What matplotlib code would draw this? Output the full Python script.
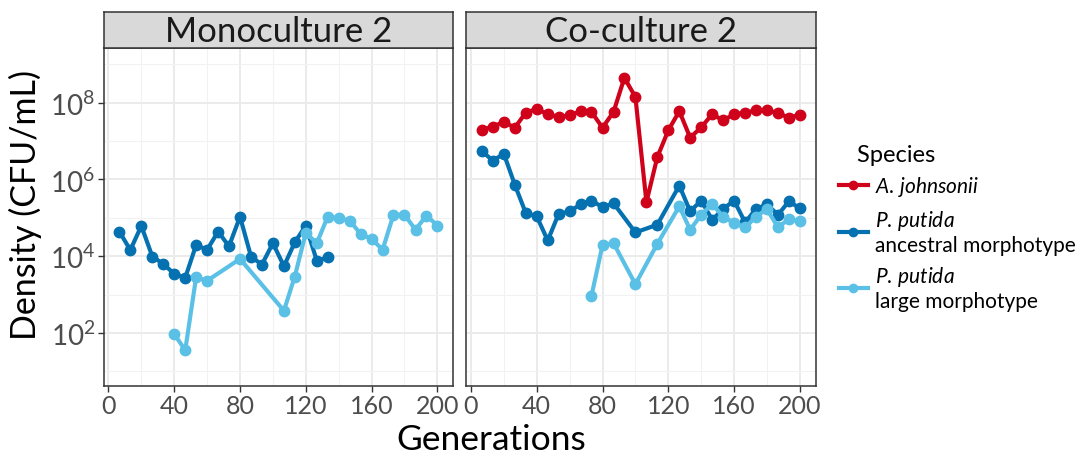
import matplotlib
matplotlib.use('Agg')
import matplotlib.pyplot as plt
from matplotlib.ticker import FixedLocator, FuncFormatter, NullFormatter
from matplotlib.lines import Line2D
import math

plt.rcParams['font.family'] = ['Lato', 'DejaVu Sans']
plt.rcParams['mathtext.fontset'] = 'custom'
plt.rcParams['mathtext.rm'] = 'Lato'
plt.rcParams['mathtext.it'] = 'Lato:italic'

# values: generations and log10(CFU/mL)
mono_anc_gen = [6.7, 13.3, 20, 26.7, 33.3, 40, 46.7, 53.3, 60, 66.7,
                73.3, 80, 86.7, 93.3, 100, 106.7, 113.3, 120, 126.7, 133.3]
mono_anc_log = [4.64, 4.16, 4.79, 3.99, 3.80, 3.54, 3.44, 4.29, 4.17, 4.64,
                4.26, 5.03, 3.99, 3.78, 4.34, 3.74, 4.36, 4.80, 3.88, 3.97]

mono_large_gen = [40, 46.7, 53.3, 60, 80, 106.7, 113.3, 120, 126.7, 133.3,
                  140, 146.7, 153.3, 160, 166.7, 173.3, 180, 186.7, 193.3, 200]
mono_large_log = [1.97, 1.55, 3.45, 3.36, 3.93, 2.58, 3.47, 4.61, 4.34, 5.03,
                  4.99, 4.93, 4.58, 4.45, 4.17, 5.08, 5.08, 4.69, 5.06, 4.80]

co_aj_gen = [6.7, 13.3, 20, 26.7, 33.3, 40, 46.7, 53.3, 60, 66.7,
             73.3, 80, 86.7, 93.3, 100, 106.7, 113.3, 120, 126.7, 133.3,
             140, 146.7, 153.3, 160, 166.7, 173.3, 180, 186.7, 193.3, 200]
co_aj_log = [7.30, 7.38, 7.50, 7.35, 7.74, 7.84, 7.70, 7.63, 7.67, 7.78,
             7.76, 7.35, 7.76, 8.65, 8.15, 5.41, 6.58, 7.28, 7.78, 7.09,
             7.36, 7.70, 7.54, 7.70, 7.74, 7.80, 7.80, 7.73, 7.61, 7.69]

co_anc_gen = [6.7, 13.3, 20, 26.7, 33.3, 40, 46.7, 53.3, 60, 66.7,
              73.3, 80, 86.7, 100, 113.3, 126.7, 133.3, 140, 146.7, 153.3,
              160, 166.7, 173.3, 180, 186.7, 193.3, 200]
co_anc_log = [6.74, 6.49, 6.67, 5.86, 5.13, 5.04, 4.41, 5.10, 5.17, 5.35,
              5.45, 5.28, 5.38, 4.62, 4.82, 5.84, 5.17, 5.45, 4.95, 5.23,
              5.45, 4.88, 5.23, 5.35, 5.08, 5.43, 5.25]

co_large_gen = [73.3, 80, 86.7, 100, 113.3, 126.7, 133.3, 140, 146.7, 153.3,
                160, 166.7, 173.3, 180, 186.7, 193.3, 200]
co_large_log = [2.97, 4.29, 4.34, 3.27, 4.32, 5.30, 4.69, 5.08, 5.36, 5.03,
                4.87, 4.75, 5.03, 5.23, 4.75, 4.97, 4.91]

panels = ['Monoculture 2', 'Co-culture 2']
species = [r'$\mathit{A.\,johnsonii}$',
           r'$\mathit{P.\,putida}$' + '\nancestral morphotype',
           r'$\mathit{P.\,putida}$' + '\nlarge morphotype']
colors = ['#D0021B', '#0571B0', '#5BC0E6']

x_major = [0, 40, 80, 120, 160, 200]
x_minor = [20, 60, 100, 140, 180]
y_major = [1e2, 1e4, 1e6, 1e8]
y_minor = [1e1, 1e3, 1e5, 1e7, 1e9]

data = {
    'Monoculture 2': [None, (mono_anc_gen, mono_anc_log), (mono_large_gen, mono_large_log)],
    'Co-culture 2': [(co_aj_gen, co_aj_log), (co_anc_gen, co_anc_log), (co_large_gen, co_large_log)],
}

fig = plt.figure(figsize=(10.86, 4.6), dpi=100)
W, H = 1086, 460
ax_left = [103.5, 466]
ax_w = 349.5
top, bottom = 48.5, 386.5
strip_top = 12.5

def sup(v, pos):
    return r'$10^{%d}$' % round(math.log10(v))

for i, name in enumerate(panels):
    ax = fig.add_axes([ax_left[i] / W, 1 - bottom / H, ax_w / W, (bottom - top) / H])
    ax.set_yscale('log')
    ax.set_xlim(-3, 209.5)
    ax.set_ylim(10 ** 0.63, 10 ** 9.44)
    for k, d in enumerate(data[name]):
        if d is None:
            continue
        g, lv = d
        ax.plot(g, [10 ** v for v in lv], '-o', color=colors[k], lw=3.0,
                ms=7.5, solid_capstyle='round', zorder=3 + k)
    ax.xaxis.set_major_locator(FixedLocator(x_major))
    ax.xaxis.set_minor_locator(FixedLocator(x_minor))
    ax.yaxis.set_major_locator(FixedLocator(y_major))
    ax.yaxis.set_minor_locator(FixedLocator(y_minor))
    ax.yaxis.set_minor_formatter(NullFormatter())
    ax.grid(which='major', color='#EBEBEB', lw=1.4)
    ax.grid(which='minor', color='#F2F2F2', lw=0.8)
    ax.set_axisbelow(True)
    ax.tick_params(which='minor', length=0)
    ax.tick_params(which='major', length=4, width=1, color='#333333',
                   labelsize=18, labelcolor='#4D4D4D', pad=2)
    for s in ax.spines.values():
        s.set_color('#333333')
        s.set_linewidth(1.1)
    if i == 0:
        ax.yaxis.set_major_formatter(FuncFormatter(sup))
        ax.tick_params(axis='y', labelsize=20)
    else:
        ax.tick_params(axis='y', labelleft=False, length=0)
    # strip
    st = fig.add_axes([ax_left[i] / W, 1 - top / H, ax_w / W, (top - strip_top) / H])
    st.set_facecolor('#D9D9D9')
    st.set_xticks([]); st.set_yticks([])
    for s in st.spines.values():
        s.set_color('#333333')
        s.set_linewidth(1.1)
    st.text(0.5, 0.47, name, ha='center', va='center', fontsize=25,
            color='#1A1A1A', transform=st.transAxes)

fig.text(491 / W, 1 - 440 / H, 'Generations', ha='center', va='center', fontsize=25.5)
fig.text(25 / W, 1 - 205 / H, 'Density (CFU/mL)', ha='center', va='center',
         rotation=90, fontsize=24.5)

handles = [Line2D([], [], color=c, lw=3.0, marker='o', ms=6) for c in colors]
leg = fig.legend(handles, species, title='   Species', loc='upper left',
                 bbox_to_anchor=(820 / W, 1 - 126 / H), frameon=False,
                 fontsize=15, title_fontsize=17, handlelength=1.4,
                 handletextpad=0.35, labelspacing=0.45, alignment='left')

fig.savefig('out.png', dpi=100)
